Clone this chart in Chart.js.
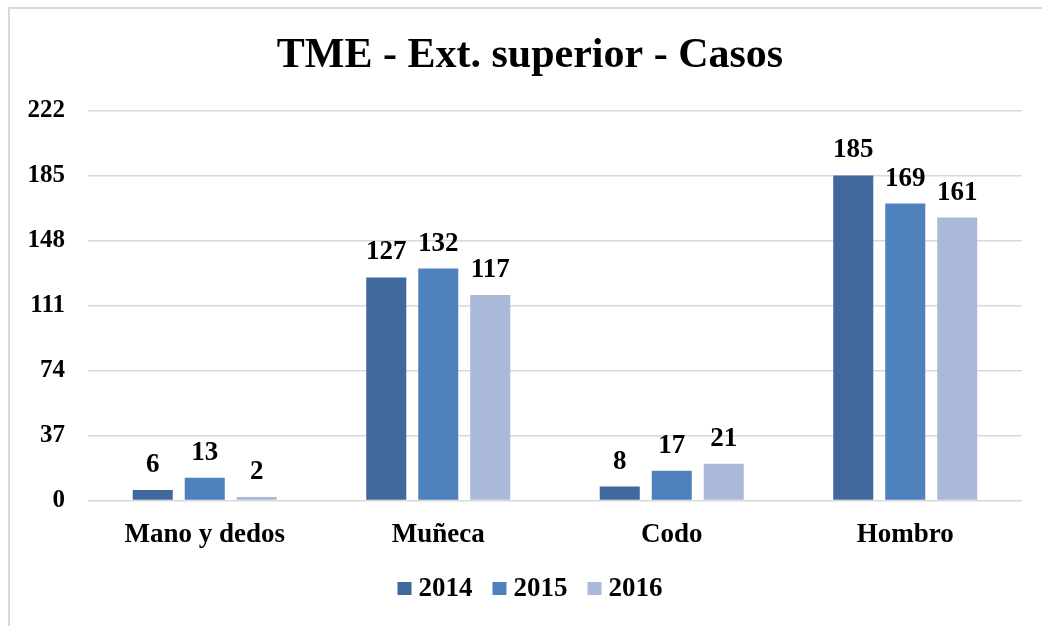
<!DOCTYPE html>
<html>
<head>
<meta charset="utf-8">
<script src="https://cdn.jsdelivr.net/npm/chart.js@4/dist/chart.umd.min.js"></script>
<style>
	html, body { margin: 0; padding: 0; background: #ffffff; overflow: hidden; }
	#frame { position: absolute; left: 8px; top: 7px; width: 1100px; height: 700px;
		border-left: 2px solid #d9d9d9; border-top: 2px solid #d9d9d9; }
	#holder { position: absolute; left: 0; top: 0; width: 1042px; height: 626px; }
</style>
</head>
<body>
<div id="frame"></div>
<div id="holder"><canvas id="chart" width="1042" height="626"></canvas></div>
<script>
let categories = ["Mano y dedos", "Muñeca", "Codo", "Hombro"];
let seriesNames = ["2014", "2015", "2016"];
let values2014 = [6, 127, 8, 185];
let values2015 = [13, 132, 17, 169];
let values2016 = [2, 117, 21, 161];
let seriesColors = ["#41689c", "#4f81bd", "#aab9d7"];
let yTicks = [0, 37, 74, 111, 148, 185, 222];

let serif = "'Liberation Serif', 'Times New Roman', serif";
let frameCenter = 530;

// value labels above each bar
let valueLabels = {
	id: "valueLabels",
	afterDatasetsDraw(chart) {
		let ctx = chart.ctx;
		ctx.save();
		ctx.font = "bold 27px " + serif;
		ctx.fillStyle = "#000000";
		ctx.textAlign = "center";
		ctx.textBaseline = "alphabetic";
		chart.data.datasets.forEach((ds, i) => {
			chart.getDatasetMeta(i).data.forEach((bar, j) => {
				ctx.fillText(String(ds.data[j]), bar.x, bar.y - 18);
			});
		});
		ctx.restore();
	}
};

// center the title on the frame rather than on the canvas
let shiftTitle = {
	id: "shiftTitle",
	afterLayout(chart) {
		let t = chart.titleBlock;
		let d = frameCenter - (t.left + t.right) / 2;
		t.left += d;
		t.right += d;
	}
};

// legend drawn by hand so the box/text spacing matches
let bottomLegend = {
	id: "bottomLegend",
	afterDraw(chart) {
		let ctx = chart.ctx;
		ctx.save();
		ctx.font = "bold 27px " + serif;
		ctx.textBaseline = "alphabetic";
		ctx.textAlign = "left";
		let box = 14, gap = 7, spacing = 20;
		let widths = chart.data.datasets.map(ds => box + gap + ctx.measureText(ds.label).width);
		let total = widths.reduce((a, b) => a + b, 0) + spacing * (widths.length - 1);
		let x = frameCenter - total / 2;
		let baseline = 596;
		chart.data.datasets.forEach((ds, i) => {
			ctx.fillStyle = ds.backgroundColor;
			ctx.fillRect(x, 582, box, 13);
			ctx.fillStyle = "#000000";
			ctx.fillText(ds.label, x + box + gap, baseline);
			x += widths[i] + spacing;
		});
		ctx.restore();
	}
};

let chartCanvas = document.getElementById("chart");

let datasets = [values2014, values2015, values2016].map((vals, i) => ({
	label: seriesNames[i],
	data: vals,
	backgroundColor: seriesColors[i],
	borderWidth: 0,
	categoryPercentage: 0.668,
	barPercentage: 0.77
}));

let casesChart = new Chart(chartCanvas, {
	type: "bar",
	data: { labels: categories, datasets: datasets },
	options: {
		responsive: false,
		animation: false,
		layout: { padding: { left: 0, right: 20, top: 0, bottom: 65 } },
		plugins: {
			legend: { display: false },
			tooltip: { enabled: false },
			title: {
				display: true,
				text: "TME - Ext. superior - Casos",
				color: "#000000",
				font: { family: serif, size: 42, weight: "bold" },
				padding: { top: 31, bottom: 29 }
			}
		},
		scales: {
			x: {
				grid: { display: false },
				border: { display: false },
				ticks: {
					color: "#000000",
					padding: 10,
					font: { family: serif, size: 27, weight: "bold" }
				}
			},
			y: {
				min: 0,
				max: 222,
				afterBuildTicks: (scale) => { scale.ticks = yTicks.map(v => ({ value: v })); },
				afterFit: (scale) => { scale.width = 88; },
				grid: { color: "#d9d9d9", lineWidth: 1.5, drawTicks: false },
				border: { display: false },
				ticks: {
					color: "#000000",
					padding: 23,
					font: { family: serif, size: 25, weight: "bold" }
				}
			}
		}
	},
	plugins: [valueLabels, shiftTitle, bottomLegend]
});
</script>
</body>
</html>
